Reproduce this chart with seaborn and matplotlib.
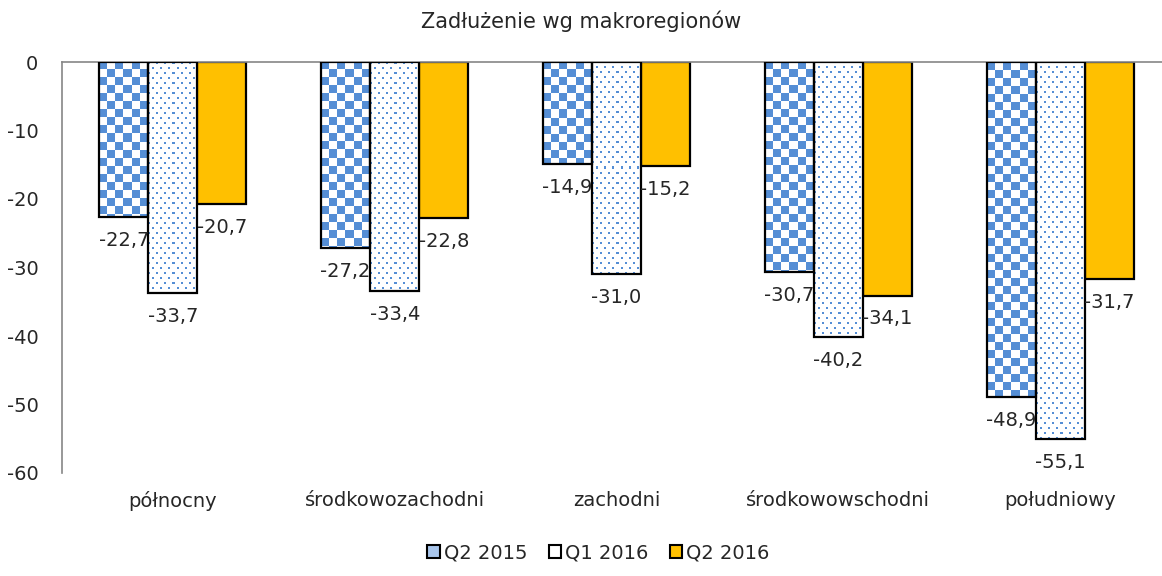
import numpy as np
import pandas as pd
import matplotlib
matplotlib.use("Agg")
import matplotlib.pyplot as plt
import matplotlib.patches as patches
import seaborn as sns

# --- data ---
regions = ["północny", "środkowozachodni", "zachodni", "środkowowschodni", "południowy"]
periods = ["Q2 2015", "Q1 2016", "Q2 2016"]
q2_2015 = [-22.7, -27.2, -14.9, -30.7, -48.9]
q1_2016 = [-33.7, -33.4, -31.0, -40.2, -55.1]
q2_2016 = [-20.7, -22.8, -15.2, -34.1, -31.7]
y_ticks = [0, -10, -20, -30, -40, -50, -60]

BLUE = "#558ED5"
YELLOW = "#FFC000"
GREY = "#868686"
FS = 14

df = pd.DataFrame({
    "region": regions * 3,
    "period": [p for p in periods for _ in regions],
    "value": q2_2015 + q1_2016 + q2_2016,
})

sns.set_style("white")
plt.rcParams["font.family"] = ["DejaVu Sans"]

fig = plt.figure(figsize=(11.62, 5.76), dpi=100)
ax = fig.add_axes([62 / 1162, 1 - 473 / 576, 1109 / 1162, (473 - 62) / 576])

sns.barplot(
    data=df, x="region", y="value", hue="period",
    hue_order=periods,
    palette={"Q2 2015": BLUE, "Q1 2016": "white", "Q2 2016": YELLOW},
    width=0.663, gap=0, edgecolor="black", linewidth=1.6,
    legend=False, ax=ax, saturation=1,
)

ax.set_xlim(-0.5, len(regions) - 0.5)
ax.set_ylim(-60, 0)


def texture(kind, wp, hp):
    """Build a small pixel texture: checkerboard or dotted."""
    blue = np.array(matplotlib.colors.to_rgb(BLUE))
    arr = np.ones((hp, wp, 3))
    ii, jj = np.mgrid[0:hp, 0:wp]
    if kind == "checker":
        mask = ((ii // 8 + jj // 8) % 2) == 0
    else:
        row = ii // 5
        off = (row % 2) * 4
        mask = ((ii % 5) < 2) & (((jj + off) % 8) < 2)
    arr[mask] = blue
    return arr


# fill the first two series with their textures, clipped to each bar
for container, kind in zip(ax.containers[:2], ["checker", "dots"]):
    for bar in container:
        x0, y0 = bar.get_x(), bar.get_y()
        w, h = bar.get_width(), bar.get_height()
        p0 = ax.transData.transform((x0, y0))
        p1 = ax.transData.transform((x0 + w, y0 + h))
        wp = max(int(round(abs(p1[0] - p0[0]))), 1)
        hp = max(int(round(abs(p1[1] - p0[1]))), 1)
        im = ax.imshow(texture(kind, wp, hp), extent=(x0, x0 + w, y0 + h, y0),
                       origin="upper", aspect="auto", interpolation="nearest",
                       zorder=2)
        im.set_clip_path(bar)
        bar.set_facecolor("none")
        bar.set_zorder(3)

ax.set_xlim(-0.5, len(regions) - 0.5)
ax.set_ylim(-60, 0)

# data labels under the bar ends
for container in ax.containers:
    for bar in container:
        v = bar.get_height()
        ax.annotate(f"{v:.1f}".replace(".", ","),
                    (bar.get_x() + bar.get_width() / 2, v),
                    xytext=(0, -10), textcoords="offset points",
                    ha="center", va="top", fontsize=FS, zorder=5)

# --- axes formatting ---
ax.set_yticks(y_ticks)
ax.set_yticklabels([str(t) for t in y_ticks])
ax.set_xlabel("")
ax.set_ylabel("")
ax.tick_params(axis="both", length=0, labelsize=FS)
ax.tick_params(axis="y", pad=17)
ax.tick_params(axis="x", pad=13)
for side in ["bottom", "right"]:
    ax.spines[side].set_visible(False)
for side in ["top", "left"]:
    ax.spines[side].set_color(GREY)
    ax.spines[side].set_linewidth(1.2)

fig.text(0.5, 1 - 21 / 576, "Zadłużenie wg makroregionów",
         ha="center", va="center", fontsize=15)

handles = [
    patches.Patch(facecolor="#A9C6EC", edgecolor="black", linewidth=1.5, label="Q2 2015"),
    patches.Patch(facecolor="white", edgecolor="black", linewidth=1.5, label="Q1 2016"),
    patches.Patch(facecolor=YELLOW, edgecolor="black", linewidth=1.5, label="Q2 2016"),
]
fig.legend(handles=handles, loc="center", bbox_to_anchor=(0.515, 1 - 553 / 576),
           ncol=3, frameon=False, fontsize=FS, handlelength=0.65, handleheight=0.65,
           handletextpad=0.2, columnspacing=1.1)

fig.savefig("out.png", dpi=100)
